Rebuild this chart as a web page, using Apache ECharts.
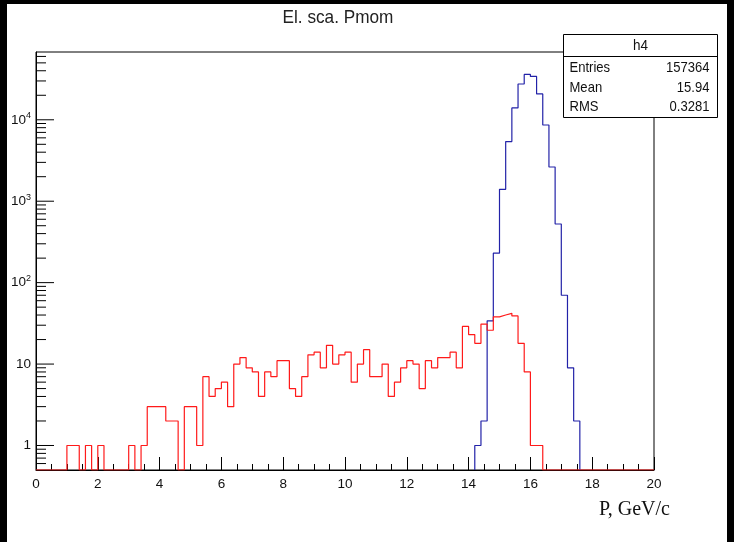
<!DOCTYPE html>
<html>
<head>
<meta charset="utf-8">
<title>El. sca. Pmom</title>
<script src="https://cdn.jsdelivr.net/npm/echarts@6/dist/echarts.min.js"></script>
<style>
  html, body { margin: 0; padding: 0; background: #000; }
  #paper { position: absolute; left: 7px; top: 4px; width: 720px; height: 538px; background: #fff; }
  #chart { position: absolute; left: 0; top: 0; width: 734px; height: 542px; }
</style>
</head>
<body>
<div id="paper"></div>
<div id="chart"></div>
<script>
// histogram bins: 100 bins of 0.2 GeV/c from 0 to 20
const binWidth = 0.2;
const redStart = 0;
const redCounts = [
  0, 0, 0, 0, 0, 1, 1, 0, 1, 0,
  1, 0, 0, 0, 0, 1, 0, 1, 3, 3,
  3, 2, 2, 0, 3, 3, 1, 7, 4, 5,
  6, 3, 10, 12, 9, 8, 4, 8, 7, 11,
  11, 5, 4, 7, 13, 14, 9, 17, 10, 13,
  14, 6, 10, 15, 7, 7, 10, 4, 6, 9,
  11, 10, 5, 11, 9, 12, 12, 14, 9, 29,
  23, 18, 31, 26, 38, 40, 42, 39, 18, 8,
  1, 1, 0, 0, 0, 0, 0, 0, 0, 0,
  0, 0, 0, 0, 0, 0, 0, 0, 0, 0
];
// h4 (blue), non-empty bins only, starting at 14.2
const blueStart = 14.2;
const blueCounts = [1, 2, 34, 230, 1400, 5400, 14000, 27500, 36100, 34100, 20750, 8630, 2630, 525, 70, 9, 2];

const xTickLabels = [0, 2, 4, 6, 8, 10, 12, 14, 16, 18, 20];
const yMin = 0.5, yMax = 68000;
const yMajorTicks = [1, 10, 100, 1000, 10000];
const yMinorTicks = [
  0.6, 0.7, 0.8, 0.9,
  2, 3, 4, 5, 6, 7, 8, 9,
  20, 30, 40, 50, 60, 70, 80, 90,
  200, 300, 400, 500, 600, 700, 800, 900,
  2000, 3000, 4000, 5000, 6000, 7000, 8000, 9000,
  20000, 30000, 40000, 50000, 60000
];

const titleText = 'El. sca. Pmom';
const statsName = 'h4';
const statsRows = [['Entries', '157364'], ['Mean', '15.94'], ['RMS', '0.3281']];

// step outline of a histogram, empty bins sit on the floor of the log axis
function histPoints(start, counts) {
  const pts = [[start, yMin]];
  counts.forEach((c, i) => {
    pts.push([+(start + i * binWidth).toFixed(2), c > 0 ? c : yMin]);
  });
  const end = +(start + counts.length * binWidth).toFixed(2);
  const last = counts[counts.length - 1];
  pts.push([end, last > 0 ? last : yMin]);
  pts.push([end, yMin]);
  return pts;
}

const tickData = yMajorTicks.map(v => [0, v, 18]).concat(yMinorTicks.map(v => [0, v, 10]));

function yLabel(v) {
  const l = Math.log10(v);
  const e = Math.round(l);
  if (Math.abs(l - e) > 1e-6 || e < 0) return '';
  if (e === 0) return '1';
  if (e === 1) return '10';
  return '10{sup|' + e + '}';
}

const font = '"Liberation Sans", Arial, sans-serif';
const chart = echarts.init(document.getElementById('chart'));

const statsChildren = [
  { type: 'rect', shape: { x: 0, y: 0, width: 154, height: 83 },
    style: { fill: '#fff', stroke: '#000', lineWidth: 1 } },
  { type: 'line', shape: { x1: 0, y1: 22, x2: 154, y2: 22 },
    style: { stroke: '#000', lineWidth: 1 } },
  { type: 'text', x: 77, y: 11.5, scaleX: 0.9,
    style: { text: statsName, fill: '#111', fontSize: 15, fontFamily: font,
             align: 'center', verticalAlign: 'middle' } }
];
statsRows.forEach((r, i) => {
  const y = 33.5 + i * 19.5;
  statsChildren.push({ type: 'text', x: 6, y: y, scaleX: 0.9,
    style: { text: r[0], fill: '#111', fontSize: 14.5, fontFamily: font, align: 'left', verticalAlign: 'middle' } });
  statsChildren.push({ type: 'text', x: 146, y: y, scaleX: 0.9,
    style: { text: r[1], fill: '#111', fontSize: 14.5, fontFamily: font, align: 'right', verticalAlign: 'middle' } });
});

chart.setOption({
  animation: false,
  backgroundColor: 'transparent',
  grid: {
    left: 36, right: 80, top: 52, bottom: 72,
    show: true, borderColor: '#000', borderWidth: 1, backgroundColor: 'transparent'
  },
  xAxis: {
    type: 'value', min: 0, max: 20, interval: 2,
    axisLine: { lineStyle: { color: '#000', width: 1 } },
    axisTick: { inside: true, length: 13, lineStyle: { color: '#000' } },
    minorTick: { show: true, splitNumber: 4, length: 6, lineStyle: { color: '#000' } },
    splitLine: { show: false },
    axisLabel: {
      margin: 7, fontSize: 13.5, color: '#111', fontFamily: font,
      formatter: v => (xTickLabels.indexOf(v) >= 0 ? String(v) : '')
    }
  },
  yAxis: {
    type: 'log', logBase: 10, min: yMin, max: yMax,
    axisLine: { show: true, lineStyle: { color: '#000', width: 1 } },
    axisTick: { show: false },
    splitLine: { show: false },
    axisLabel: {
      margin: 5, fontSize: 13.5, color: '#111', fontFamily: font,
      showMinLabel: false, showMaxLabel: false,
      formatter: yLabel,
      rich: { sup: { fontSize: 9, fontFamily: font, color: '#111', padding: [0, 0, 8, 0] } }
    }
  },
  graphic: [
    { type: 'text', x: 338, y: 18, z: 100, scaleX: 0.93,
      style: { text: titleText, fill: '#222', fontSize: 18.5, fontFamily: font,
               align: 'center', verticalAlign: 'middle' } },
    { type: 'group', left: 561, top: 34, z: 100, children: statsChildren },
    { type: 'text', x: 670, y: 510, z: 100,
      style: { text: 'P, GeV/c', fill: '#111', fontSize: 20,
               fontFamily: '"Liberation Serif", "Times New Roman", serif',
               align: 'right', verticalAlign: 'middle' } }
  ],
  series: [
    {
      type: 'custom', silent: true,
      data: tickData,
      encode: { x: 0, y: 1 },
      renderItem: (params, api) => {
        const p = api.coord([api.value(0), api.value(1)]);
        return { type: 'line',
          shape: { x1: p[0], y1: p[1], x2: p[0] + api.value(2), y2: p[1] },
          style: { stroke: '#000', lineWidth: 1 } };
      }
    },
    {
      name: 'h4', type: 'line', step: 'end', symbol: 'none',
      data: histPoints(blueStart, blueCounts),
      lineStyle: { color: '#2222a8', width: 1.2 }
    },
    {
      name: 'red', type: 'line', step: 'end', symbol: 'none',
      data: histPoints(redStart, redCounts),
      lineStyle: { color: '#ff1a1a', width: 1.2 }
    }
  ]
});
</script>
</body>
</html>
